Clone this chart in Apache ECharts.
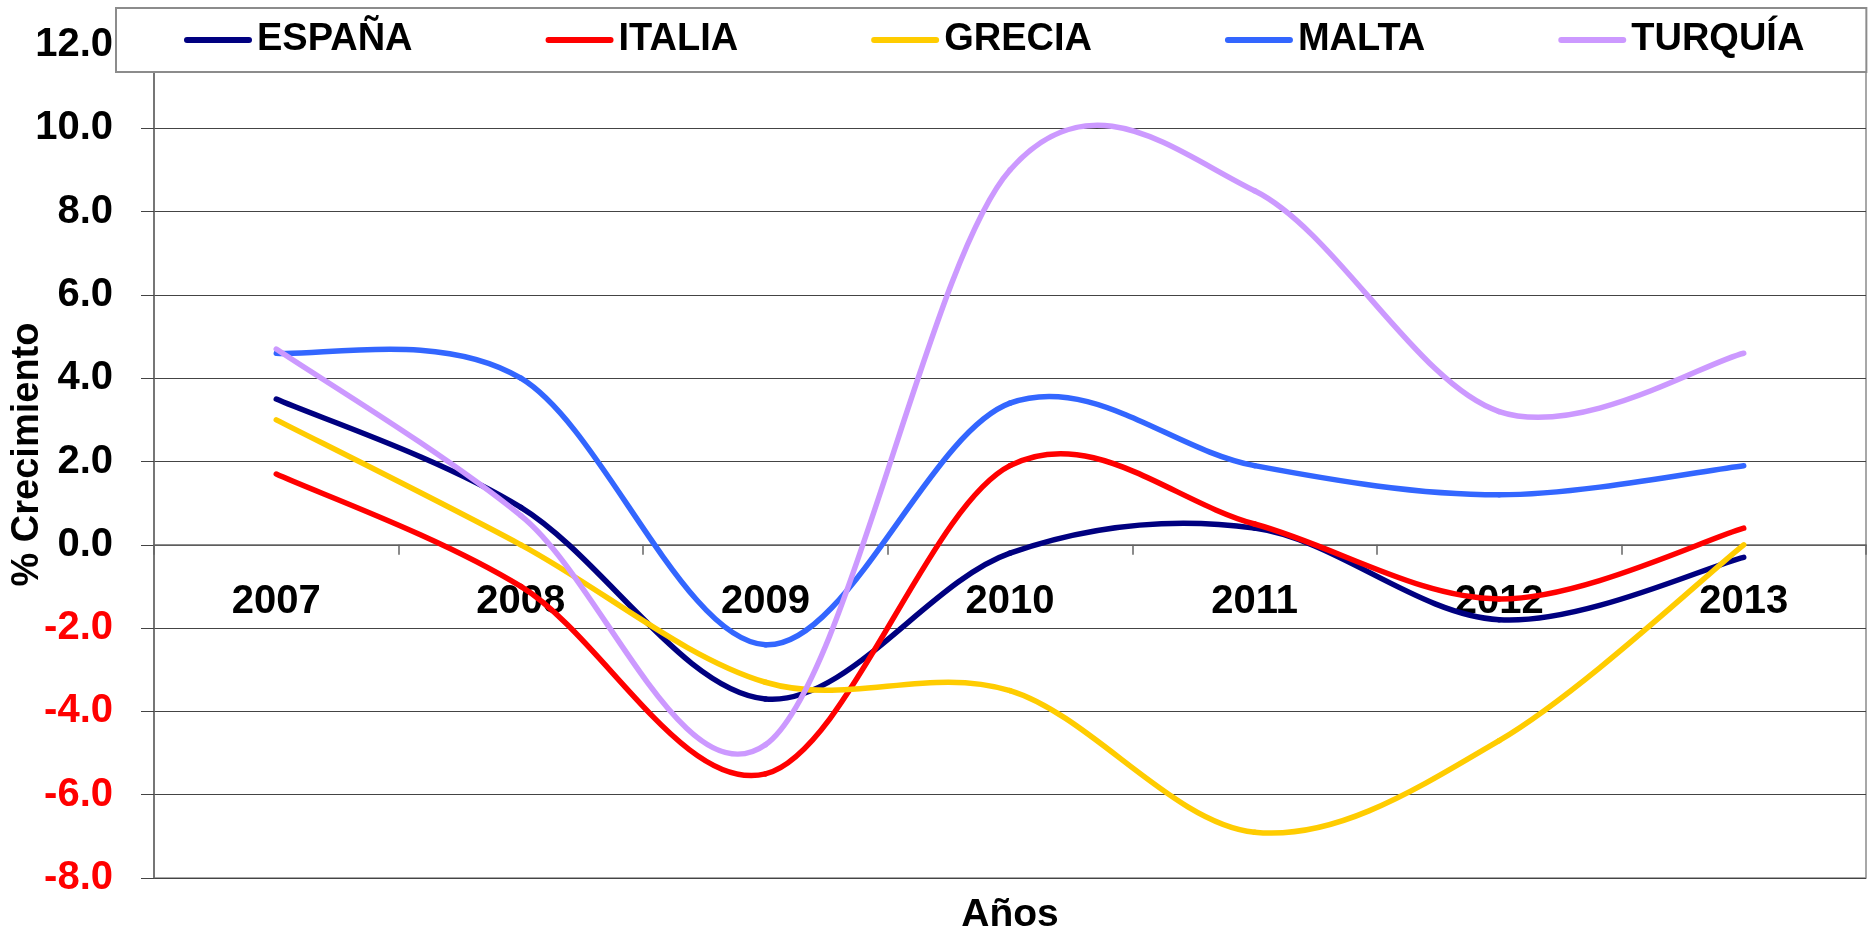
<!DOCTYPE html>
<html>
<head>
<meta charset="utf-8">
<script src="https://cdn.jsdelivr.net/npm/echarts@6/dist/echarts.min.js"></script>
<style>
  html, body { margin: 0; padding: 0; background: #fff; }
  #chart { width: 1870px; height: 934px; }
</style>
</head>
<body>
<div id="chart"></div>
<script>
// ---- data ----
const years = ['2007', '2008', '2009', '2010', '2011', '2012', '2013'];
const seriesNames = ['ESPAÑA', 'ITALIA', 'GRECIA', 'MALTA', 'TURQUÍA'];
const espana  = [3.5,  0.9, -3.7, -0.2,  0.4, -1.8, -0.3];
const italia  = [1.7, -1.0, -5.5,  1.9,  0.5, -1.3,  0.4];
const grecia  = [3.0,  0.0, -3.3, -3.5, -6.9, -4.7,  0.0];
const malta   = [4.6,  4.0, -2.4,  3.4,  1.9,  1.2,  1.9];
const turquia = [4.7,  0.7, -4.8,  9.0,  8.5,  3.2,  4.6];
const yTicks = [-8, -6, -4, -2, 0, 2, 4, 6, 8, 10, 12];

const colors = ['#000080', '#FF0000', '#FFCC00', '#3366FF', '#CC99FF'];
const FONT = "'Liberation Sans', Arial, Helvetica, sans-serif";

// smooth line (Excel-style Catmull-Rom bezier) drawn through the axis scales
function smoothSeries(name, values, color) {
  return {
    type: 'custom',
    name: name,
    coordinateSystem: 'cartesian2d',
    data: values.map((v, i) => [i, v]),
    encode: { x: 0, y: 1 },
    itemStyle: { color: color },
    renderItem: function (params, api) {
      const i = params.dataIndexInside;
      const n = params.dataInsideLength;
      if (i >= n - 1) return null;
      const pt = function (j) {
        j = Math.max(0, Math.min(n - 1, j));
        return api.coord([api.value(0, j), api.value(1, j)]);
      };
      const p0 = pt(i - 1), p1 = pt(i), p2 = pt(i + 1), p3 = pt(i + 2);
      return {
        type: 'bezierCurve',
        shape: {
          x1: p1[0], y1: p1[1], x2: p2[0], y2: p2[1],
          cpx1: p1[0] + (p2[0] - p0[0]) / 6, cpy1: p1[1] + (p2[1] - p0[1]) / 6,
          cpx2: p2[0] - (p3[0] - p1[0]) / 6, cpy2: p2[1] - (p3[1] - p1[1]) / 6
        },
        style: { stroke: color, lineWidth: 5.5, fill: 'none', lineCap: 'round', lineJoin: 'round' }
      };
    }
  };
}

const allValues = [espana, italia, grecia, malta, turquia];
const capsule = 'path://M3,0L65,0A3,3,0,0,1,65,6L3,6A3,3,0,0,1,3,0Z';

const option = {
  animation: false,
  backgroundColor: '#ffffff',
  textStyle: { fontFamily: FONT },
  grid: {
    left: 154, right: 4, top: 45, bottom: 56,
    containLabel: false,
    outerBoundsMode: 'none',
    show: true, borderColor: '#8c8c8c', borderWidth: 1.5
  },
  legend: {
    left: 116, top: 8,
    padding: [12, 62, 12, 68],
    itemGap: 133,
    itemWidth: 68, itemHeight: 6,
    backgroundColor: '#ffffff',
    borderColor: '#8c8c8c', borderWidth: 2,
    z: 10,
    textStyle: { fontFamily: FONT, fontSize: 38, fontWeight: 'bold', color: '#000', lineHeight: 40 },
    data: seriesNames.map((n, k) => ({ name: n, icon: capsule, itemStyle: { color: colors[k] } }))
  },
  xAxis: {
    type: 'category',
    data: years,
    boundaryGap: true,
    name: 'Años',
    nameLocation: 'middle',
    nameGap: 18,
    nameMoveOverlap: false,
    nameTextStyle: { fontFamily: FONT, fontSize: 39, fontWeight: 'bold', color: '#000' },
    axisLine: { onZero: true, lineStyle: { color: '#666', width: 1.5 } },
    axisTick: { show: true, length: 10, lineStyle: { color: '#666', width: 1.5 } },
    axisLabel: { margin: -296, fontFamily: FONT, fontSize: 40, fontWeight: 'bold', color: '#000' },
    splitLine: { show: false }
  },
  yAxis: {
    type: 'value',
    min: yTicks[0], max: yTicks[yTicks.length - 1], interval: 2,
    name: '% Crecimiento',
    nameLocation: 'middle',
    nameGap: 107,
    nameRotate: 90,
    nameMoveOverlap: false,
    nameTextStyle: { fontFamily: FONT, fontSize: 38, fontWeight: 'bold', color: '#000', padding: [0, 0, 0, 14] },
    axisLine: { show: true, lineStyle: { color: '#666', width: 1.5 } },
    axisTick: { show: true, length: 13, lineStyle: { color: '#444' } },
    axisLabel: {
      margin: 41,
      fontFamily: FONT, fontSize: 40, fontWeight: 'bold',
      formatter: v => v.toFixed(1),
      color: v => (Number(v) < 0 ? '#FF0000' : '#000000')
    },
    splitLine: { show: true, lineStyle: { color: '#444', width: 1.2 } }
  },
  series: seriesNames.map((n, k) => smoothSeries(n, allValues[k], colors[k]))
};

const chart = echarts.init(document.getElementById('chart'), null, { renderer: 'canvas' });
chart.setOption(option);
</script>
</body>
</html>
